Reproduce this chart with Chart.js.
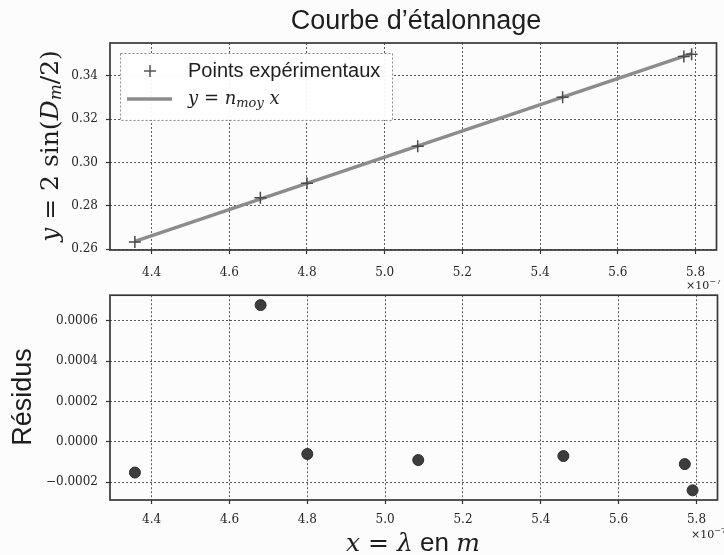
<!DOCTYPE html>
<html><head><meta charset="utf-8">
<script src="https://cdn.jsdelivr.net/npm/chart.js@4.4.1/dist/chart.umd.min.js"></script>
<style>
html,body{margin:0;padding:0;background:#fcfcfc;}
#wrap{position:relative;width:724px;height:555px;overflow:hidden;background:#fcfcfc}
canvas{position:absolute;left:0}
</style></head><body>
<div id="wrap"><canvas id="c1" width="724" height="280" style="top:0"></canvas><canvas id="c2" width="724" height="275" style="top:280px"></canvas></div>
<script>
// ---- data (x in units of 1e-7 m) ----
const lambdaX   = [4.357, 4.68, 4.80, 5.085, 5.458, 5.77, 5.79];
const measuredY = [0.2634, 0.2838, 0.2905, 0.3076, 0.3302, 0.3490, 0.3500];
const fitX      = [4.357, 5.79];
const fitY      = [0.2637, 0.3503];
const residuals = [-0.000152, 0.000678, -0.00006, -0.00009, -0.00007, -0.00011, -0.00024];
const xTicks    = [4.4, 4.6, 4.8, 5.0, 5.2, 5.4, 5.6, 5.8];
const yTicksTop = [0.26, 0.28, 0.30, 0.32, 0.34];
const yTicksRes = [-0.0002, 0, 0.0002, 0.0004, 0.0006];

const TICKFONT = {family:'DejaVu Serif', size:12};
const TXT = '#262626';
const SERIF = 'DejaVu Serif';
const SANS = 'Liberation Sans';

function gridOpts(){ return {color:'#5a5a5a', lineWidth:1, drawTicks:true, tickLength:4, tickColor:'#333', tickWidth:1.2}; }

function xScale(h, pad){
  return {type:'linear', min:4.293, max:5.854,
    afterFit(s){ s.height = h; },
    afterBuildTicks(s){ s.ticks = xTicks.map(v=>({value:v})); },
    ticks:{callback:v=>v.toFixed(1), font:TICKFONT, color:TXT, padding:pad, maxRotation:0, autoSkip:false},
    grid:gridOpts(), border:{display:false, dash:[2,2]}};
}
function yScale(min, max, ticks, fmt){
  return {type:'linear', min, max,
    afterFit(s){ s.width = 110; },
    afterBuildTicks(s){ s.ticks = ticks.map(v=>({value:v})); },
    ticks:{callback:fmt, font:TICKFONT, color:TXT, padding:8, autoSkip:false},
    grid:gridOpts(), border:{display:false, dash:[2,2]}};
}

function drawRuns(ctx, runs, cx, cy, align){
  let w = 0;
  runs.forEach(r=>{ ctx.font = r.f; r.w = ctx.measureText(r.t).width; w += r.w; });
  let x = align==='left' ? cx : cx - w/2;
  ctx.textBaseline = 'middle'; ctx.textAlign = 'left';
  runs.forEach(r=>{ ctx.font = r.f; ctx.fillText(r.t, x, cy + (r.dy||0)); x += r.w; });
}

const framePlugin = {id:'frame', afterDraw(chart){
  const {ctx, chartArea:a} = chart;
  ctx.save(); ctx.strokeStyle = '#383838'; ctx.lineWidth = 1.7;
  ctx.strokeRect(a.left, a.top, a.right-a.left, a.bottom-a.top); ctx.restore();
}};

const topText = {id:'topText', afterDraw(chart){
  const ctx = chart.ctx; ctx.save(); ctx.fillStyle = '#1e1e1e';
  ctx.font = '27px '+SANS; ctx.textAlign='center'; ctx.textBaseline='middle';
  ctx.fillText('Courbe d’étalonnage', 416, 22);
  ctx.save(); ctx.translate(51, 146); ctx.rotate(-Math.PI/2);
  drawRuns(ctx, [
    {t:'y', f:'italic 25px '+SERIF},
    {t:' = 2 sin(', f:'25px '+SERIF},
    {t:'D', f:'italic 25px '+SERIF},
    {t:'m', f:'italic 17px '+SERIF, dy:6},
    {t:'/2)', f:'25px '+SERIF}
  ], 0, 0);
  ctx.restore();
  // legend
  ctx.fillStyle = 'rgba(255,255,255,0.92)'; ctx.fillRect(120, 53, 272, 67);
  ctx.setLineDash([2,2]); ctx.strokeStyle = '#8a8a8a'; ctx.lineWidth = 1;
  ctx.strokeRect(120.5, 53.5, 272, 67); ctx.setLineDash([]);
  ctx.strokeStyle = '#555'; ctx.lineWidth = 1.5; ctx.beginPath();
  ctx.moveTo(144, 71); ctx.lineTo(156, 71); ctx.moveTo(150, 65); ctx.lineTo(150, 77); ctx.stroke();
  ctx.strokeStyle = '#8c8c8c'; ctx.lineWidth = 3.5; ctx.beginPath();
  ctx.moveTo(127, 99); ctx.lineTo(172, 99); ctx.stroke();
  ctx.fillStyle = '#1e1e1e';
  drawRuns(ctx, [{t:'Points expérimentaux', f:'20px '+SANS}], 188, 71, 'left');
  drawRuns(ctx, [
    {t:'y', f:'italic 18px '+SERIF},
    {t:' = ', f:'18px '+SERIF},
    {t:'n', f:'italic 18px '+SERIF},
    {t:'moy', f:'italic 13px '+SERIF, dy:5},
    {t:' x', f:'italic 18px '+SERIF}
  ], 188, 99, 'left');
  ctx.restore();
}};

const botText = {id:'botText', afterDraw(chart){
  const ctx = chart.ctx; ctx.save(); ctx.fillStyle = '#1e1e1e';
  [[686, 6], [691, 255]].forEach(([x,y])=>{
    drawRuns(ctx, [{t:'×10', f:'11px DejaVu Serif'}, {t:'−7', f:'8px DejaVu Serif', dy:-4}], x, y, 'left');
  });
  ctx.save(); ctx.translate(24, 117); ctx.rotate(-Math.PI/2);
  drawRuns(ctx, [{t:'Résidus', f:'27px '+SANS}], 0, 0);
  ctx.restore();
  drawRuns(ctx, [
    {t:'x', f:'italic 25px '+SERIF},
    {t:' = ', f:'25px '+SERIF},
    {t:'λ', f:'italic 25px '+SERIF},
    {t:' en ', f:'26px '+SANS},
    {t:'m', f:'italic 25px '+SERIF}
  ], 413, 264);
  ctx.restore();
}};

new Chart(document.getElementById('c1'), {
  type:'scatter',
  data:{datasets:[
    {label:'Points expérimentaux', data:lambdaX.map((x,i)=>({x, y:measuredY[i]})),
     pointStyle:'cross', pointRadius:6, pointBorderColor:'#4a4a4a', pointBorderWidth:1.5, showLine:false},
    {type:'line', label:'fit', data:fitX.map((x,i)=>({x, y:fitY[i]})),
     borderColor:'#8c8c8c', borderWidth:3.5, pointRadius:0, fill:false, tension:0}
  ]},
  options:{responsive:false, animation:false, devicePixelRatio:1,
    layout:{padding:{left:0, top:43, right:2, bottom:0}},
    plugins:{legend:{display:false}, tooltip:{enabled:false}},
    scales:{x:xScale(30, 12), y:yScale(0.2597, 0.3552, yTicksTop, v=>v.toFixed(2))}},
  plugins:[framePlugin, topText]
});

new Chart(document.getElementById('c2'), {
  type:'scatter',
  data:{datasets:[
    {label:'Résidus', data:lambdaX.map((x,i)=>({x, y:residuals[i]})),
     pointStyle:'circle', pointRadius:5.5, backgroundColor:'#3d3d3d', borderColor:'#2e2e2e', borderWidth:1}
  ]},
  options:{responsive:false, animation:false, devicePixelRatio:1,
    layout:{padding:{left:0, top:13, right:2, bottom:0}},
    plugins:{legend:{display:false}, tooltip:{enabled:false}},
    scales:{x:xScale(55, 9), y:yScale(-0.000288, 0.000727, yTicksRes,
      v=>Math.abs(v)<1e-12 ? '0.0000' : (v<0 ? '−'+Math.abs(v).toFixed(4) : v.toFixed(4)))}},
  plugins:[framePlugin, botText]
});
</script></body></html>
